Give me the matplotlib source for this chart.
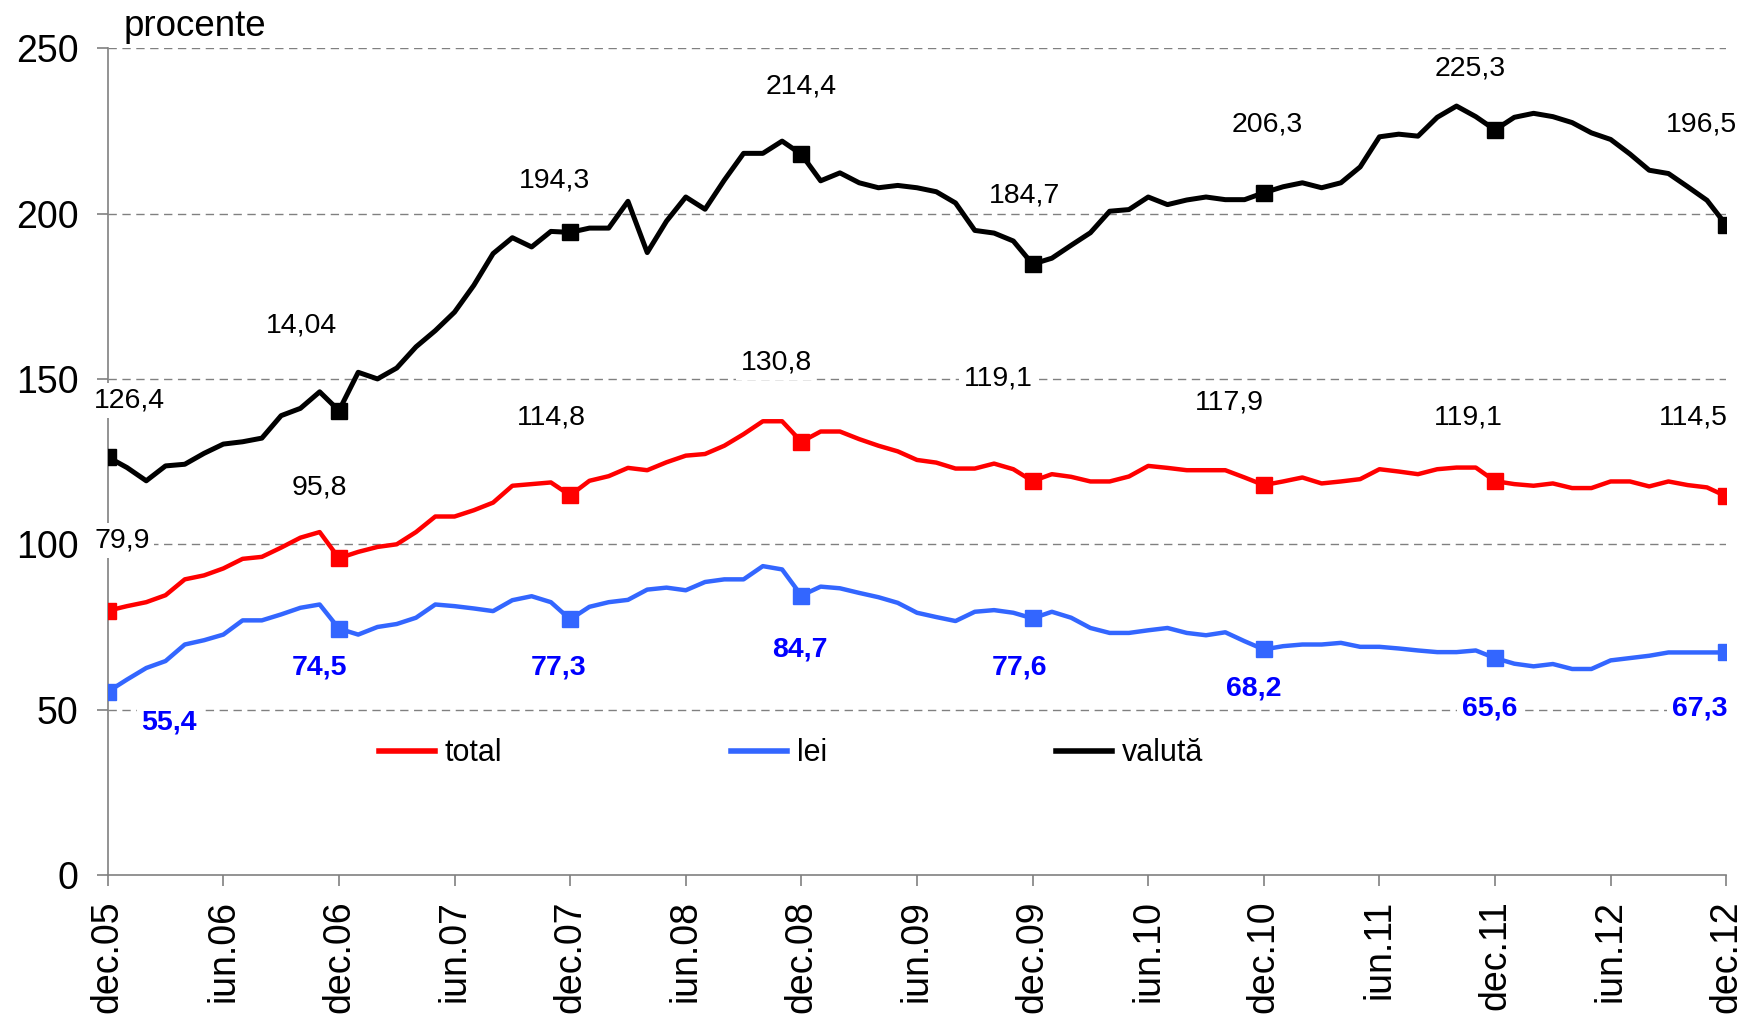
import matplotlib
matplotlib.use("Agg")
import matplotlib.pyplot as plt
from matplotlib.lines import Line2D

plt.rcParams['font.family'] = ['Liberation Sans', 'DejaVu Sans']

# monthly values, dec.05 .. dec.12
valuta = [126.4, 123.2, 119.2, 123.7, 124.2, 127.5, 130.3, 131.0, 132.1, 138.9, 141.1, 146.1,
          140.4, 152.0, 150.0, 153.3, 159.7, 164.6, 170.2, 178.3, 187.9, 192.7, 189.9, 194.6,
          194.3, 195.6, 195.6, 203.7, 188.2, 197.7, 205.0, 201.3, 210.1, 218.2, 218.2, 221.9,
          217.9, 209.9, 212.3, 209.3, 207.8, 208.5, 207.8, 206.6, 203.2, 194.9, 194.1, 191.7,
          184.7, 186.5, 190.4, 194.2, 200.7, 201.2, 205.0, 202.7, 204.1, 205.0, 204.2, 204.2,
          206.3, 208.1, 209.3, 207.8, 209.3, 214.1, 223.2, 224.0, 223.4, 229.1, 232.5, 229.3,
          225.3, 229.1, 230.3, 229.3, 227.5, 224.4, 222.4, 218.0, 213.1, 212.1, 208.1, 204.0,
          196.5]
total = [79.9, 81.3, 82.5, 84.6, 89.4, 90.6, 92.7, 95.6, 96.2, 99.0, 102.0, 103.7,
         95.8, 97.7, 99.2, 100.0, 103.7, 108.4, 108.4, 110.3, 112.6, 117.7, 118.2, 118.7,
         114.8, 119.2, 120.6, 123.1, 122.4, 124.8, 126.8, 127.3, 129.8, 133.3, 137.2, 137.2,
         131.0, 134.1, 134.1, 131.8, 129.8, 128.1, 125.5, 124.7, 122.9, 122.9, 124.4, 122.7,
         119.1, 121.2, 120.4, 119.0, 119.0, 120.5, 123.7, 123.1, 122.4, 122.4, 122.4, 120.2,
         117.9, 119.0, 120.2, 118.4, 119.0, 119.7, 122.7, 122.0, 121.2, 122.7, 123.2, 123.2,
         119.1, 118.2, 117.7, 118.4, 117.0, 117.0, 119.0, 119.0, 117.5, 119.0, 117.9, 117.2,
         114.5]
lei = [55.4, 59.1, 62.6, 64.7, 69.7, 71.0, 72.7, 77.0, 77.0, 78.8, 80.8, 81.8,
       74.5, 72.7, 75.0, 75.9, 77.8, 81.8, 81.3, 80.6, 79.8, 83.1, 84.3, 82.5,
       77.3, 81.1, 82.5, 83.2, 86.3, 86.9, 86.1, 88.6, 89.4, 89.4, 93.4, 92.4,
       84.5, 87.2, 86.7, 85.3, 84.0, 82.3, 79.3, 78.0, 76.8, 79.6, 80.1, 79.3,
       77.6, 79.6, 77.8, 74.7, 73.2, 73.2, 74.0, 74.7, 73.2, 72.5, 73.4, 70.7,
       68.2, 69.2, 69.7, 69.7, 70.2, 69.0, 69.0, 68.5, 67.9, 67.4, 67.4, 67.9,
       65.6, 63.9, 63.1, 63.8, 62.3, 62.3, 64.9, 65.6, 66.3, 67.3, 67.3, 67.3,
       67.3]

tick_labels = ["dec.05", "iun.06", "dec.06", "iun.07", "dec.07", "iun.08", "dec.08",
               "iun.09", "dec.09", "iun.10", "dec.10", "iun.11", "dec.11", "iun.12", "dec.12"]

# data labels shown at each December
valuta_labels = ["126,4", "14,04", "194,3", "214,4", "184,7", "206,3", "225,3", "196,5"]
total_labels = ["79,9", "95,8", "114,8", "130,8", "119,1", "117,9", "119,1", "114,5"]
lei_labels = ["55,4", "74,5", "77,3", "84,7", "77,6", "68,2", "65,6", "67,3"]

# label anchor positions (month index, y)
valuta_pos = [(1.15, 143.5), (10.05, 166.2), (23.2, 210.1), (36.0, 238.4),
              (47.6, 205.5), (60.2, 226.8), (70.7, 243.9), (82.7, 226.8)]
total_pos = [(0.75, 101.1), (11.0, 117.2), (23.0, 138.4), (34.7, 155.0),
             (46.2, 150.0), (58.2, 142.9), (70.6, 138.2), (82.3, 138.2)]
lei_pos = [(3.2, 46.2), (11.0, 62.8), (23.4, 62.6), (35.9, 68.2),
           (47.3, 62.6), (59.5, 56.4), (71.7, 50.4), (82.6, 50.4)]

x = list(range(len(valuta)))
dec_idx = list(range(0, len(x), 12))

fig = plt.figure(figsize=(17.43, 10.25), dpi=100)
ax = fig.add_axes([0.0618, 0.1463, 0.9286, 0.8067])

ax.plot(x, total, color='#ff0000', lw=3.2, marker='s', ms=12, markevery=dec_idx, zorder=3)
ax.plot(x, lei, color='#3366ff', lw=3.2, marker='s', ms=12, markevery=dec_idx, zorder=3)
ax.plot(x, valuta, color='black', lw=3.6, marker='s', ms=12, markevery=dec_idx, zorder=3)

box = dict(facecolor='white', edgecolor='none', pad=3)
for txt, (px, py) in zip(valuta_labels, valuta_pos):
    ax.text(px, py, txt, fontsize=20.5, ha='center', va='center', bbox=box,
            zorder=5, clip_on=False)
for txt, (px, py) in zip(total_labels, total_pos):
    ax.text(px, py, txt, fontsize=20.5, ha='center', va='center', bbox=box,
            zorder=5, clip_on=False)
for txt, (px, py) in zip(lei_labels, lei_pos):
    ax.text(px, py, txt, fontsize=20.5, ha='center', va='center', color='#0000ff',
            fontweight='bold', bbox=box, zorder=5, clip_on=False)

ax.set_xlim(0, 84)
ax.set_ylim(0, 250)
ax.set_yticks([0, 50, 100, 150, 200, 250])
ax.set_xticks(range(0, 85, 6))
ax.set_xticklabels(tick_labels, rotation=90)
ax.tick_params(axis='both', labelsize=27, color='#808080', length=8, width=1.2)
ax.tick_params(axis='y', pad=13)
ax.tick_params(axis='x', pad=10)

for yv in [50, 100, 150, 200, 250]:
    ax.axhline(yv, color='#808080', lw=1, ls=(0, (6, 4)), zorder=1)

for s in ['top', 'right']:
    ax.spines[s].set_visible(False)
for s in ['left', 'bottom']:
    ax.spines[s].set_color('#808080')
    ax.spines[s].set_linewidth(1.2)

fig.text(0.0711, 0.9737, "procente", fontsize=26.5, va='center', ha='left')

handles = [Line2D([], [], color='#ff0000', lw=4),
           Line2D([], [], color='#3366ff', lw=4),
           Line2D([], [], color='black', lw=4)]
ax.legend(handles, ['total', 'lei', 'valută'], loc='center', bbox_to_anchor=(0.422, 0.147),
          ncol=3, frameon=False, fontsize=22, handlelength=1.85, handletextpad=0.3,
          columnspacing=7.5)

fig.savefig("out.png", dpi=100)
